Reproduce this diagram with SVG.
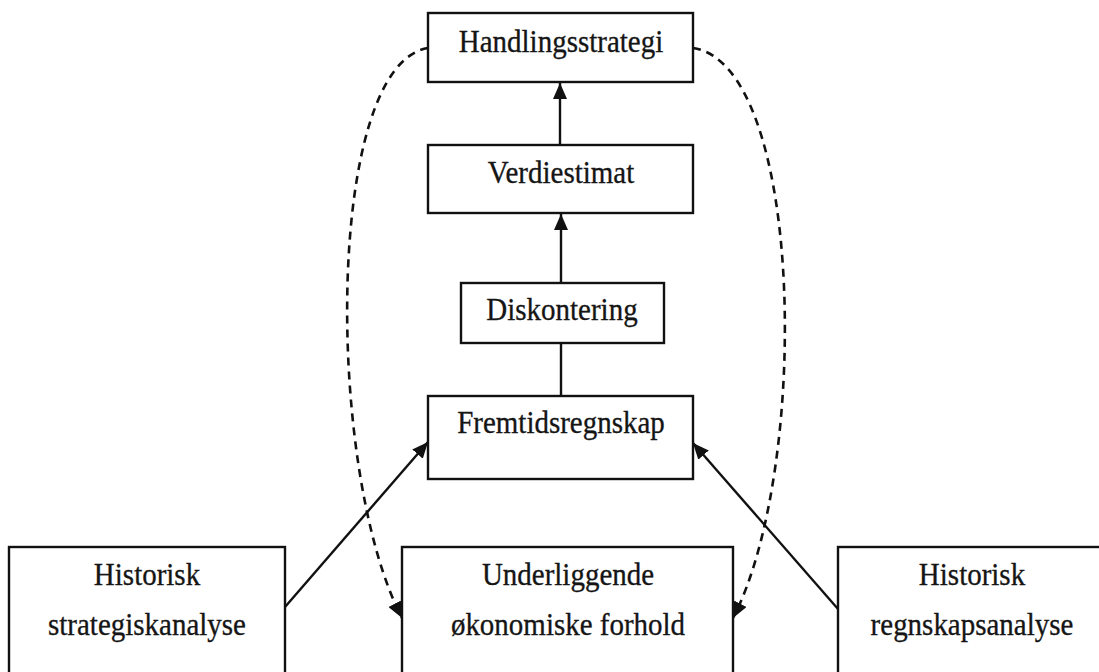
<svg xmlns="http://www.w3.org/2000/svg" width="1099" height="672" viewBox="0 0 1099 672">
<style>
.box{fill:#fff;stroke:#111;stroke-width:2.4}
.lbl{font-family:"Liberation Serif","Times New Roman",serif;font-size:29px;fill:#151515;text-anchor:middle;stroke:#151515;stroke-width:0.3}
.conn{fill:none;stroke:#111;stroke-width:2.4}
.dash{fill:none;stroke:#111;stroke-width:2.6;stroke-dasharray:8 6}
</style>
<defs>
<marker id="ah" markerUnits="userSpaceOnUse" markerWidth="16" markerHeight="14" refX="16" refY="7" orient="auto">
<path d="M0,0 L16,7 L0,14 z" fill="#111"/>
</marker>
</defs>
<rect width="1099" height="672" fill="#fff"/>
<g id="connectors">
<path class="dash" d="M428,48 C325,65 325,470 402,618" marker-end="url(#ah)"/>
<path class="dash" d="M693,48 C805,65 810,470 733,618" marker-end="url(#ah)"/>
<line class="conn" x1="560" y1="145" x2="560" y2="83" marker-end="url(#ah)"/>
<line class="conn" x1="561" y1="283" x2="561" y2="214" marker-end="url(#ah)"/>
<line class="conn" x1="561" y1="343" x2="561" y2="396"/>
<line class="conn" x1="285" y1="607" x2="428" y2="442" marker-end="url(#ah)"/>
<line class="conn" x1="838" y1="609" x2="693" y2="443" marker-end="url(#ah)"/>
</g>
<g id="handlingsstrategi">
<rect class="box" x="428" y="13" width="265" height="69"/>
<text class="lbl" transform="translate(561 52) scale(1 1.12)">Handlingsstrategi</text>
</g>
<g id="verdiestimat">
<rect class="box" x="428" y="145" width="265" height="68"/>
<text class="lbl" transform="translate(561 183) scale(1 1.12)">Verdiestimat</text>
</g>
<g id="diskontering">
<rect class="box" x="461" y="283" width="203" height="60"/>
<text class="lbl" transform="translate(562 320) scale(1 1.12)">Diskontering</text>
</g>
<g id="fremtidsregnskap">
<rect class="box" x="428" y="396" width="265" height="83"/>
<text class="lbl" transform="translate(561 433) scale(1 1.12)">Fremtidsregnskap</text>
</g>
<g id="historisk-strategiskanalyse">
<rect class="box" x="9" y="547" width="276" height="145"/>
<text class="lbl" transform="translate(147 585) scale(1 1.12)">Historisk</text>
<text class="lbl" transform="translate(147 635) scale(1 1.12)">strategiskanalyse</text>
</g>
<g id="underliggende">
<rect class="box" x="402" y="547" width="331" height="145"/>
<text class="lbl" transform="translate(568 585) scale(1 1.12)">Underliggende</text>
<text class="lbl" transform="translate(568 635) scale(1 1.12)">økonomiske forhold</text>
</g>
<g id="historisk-regnskapsanalyse">
<rect class="box" x="838" y="547" width="280" height="145"/>
<text class="lbl" transform="translate(972 585) scale(1 1.12)">Historisk</text>
<text class="lbl" transform="translate(972 635) scale(1 1.12)">regnskapsanalyse</text>
</g>
</svg>
